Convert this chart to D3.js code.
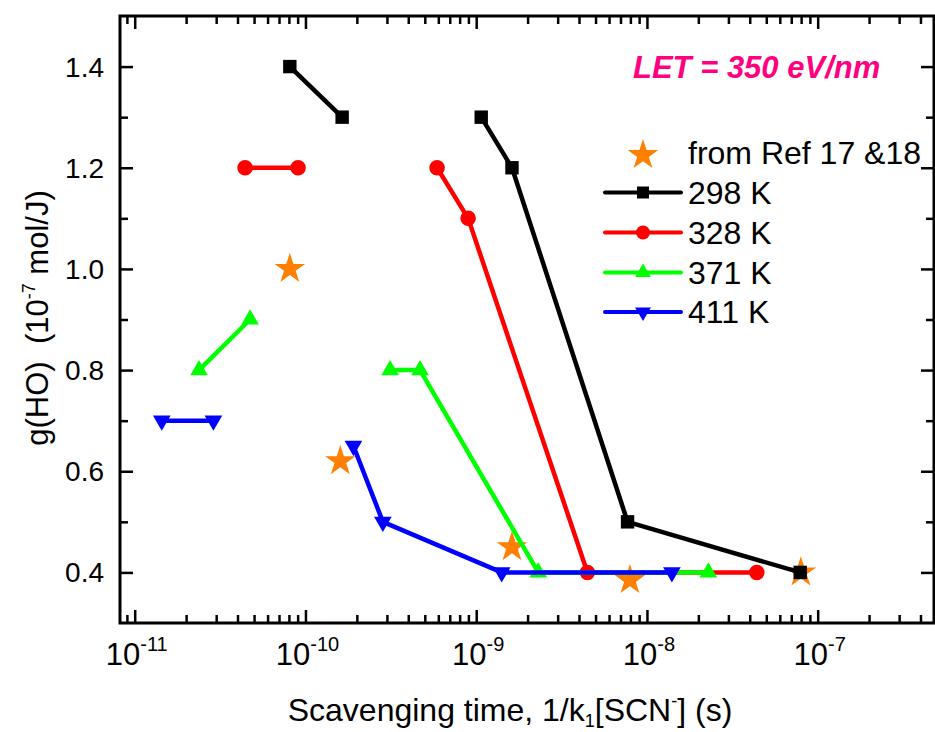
<!DOCTYPE html>
<html>
<head>
<meta charset="utf-8">
<script src="https://cdn.jsdelivr.net/npm/d3@7"></script>
<style>
  html, body { margin: 0; padding: 0; background: #fff; }
  svg { display: block; font-family: "Liberation Sans", Arial, sans-serif; }
</style>
</head>
<body>
<svg id="chart" width="935" height="732"></svg>
<script>
// ---------------- data ----------------
const seriesNames = ["298 K", "328 K", "371 K", "411 K"];
const seriesColors = ["#000000", "#ff0000", "#00ff00", "#0000ff"];
const seriesSymbols = ["square", "circle", "triangle", "triangleDown"];

// null marks a break in the line
const x298 = [8.1e-11, 1.64e-10, null, 1.07e-9, 1.62e-9, 7.7e-9, 7.9e-8];
const y298 = [1.4, 1.3, null, 1.3, 1.2, 0.5, 0.4];
const x328 = [4.43e-11, 9.05e-11, null, 5.9e-10, 8.97e-10, 4.48e-9, 4.4e-8];
const y328 = [1.2, 1.2, null, 1.2, 1.1, 0.4, 0.4];
const x371 = [2.38e-11, 4.74e-11, null, 3.13e-10, 4.69e-10, 2.31e-9, 2.29e-8];
const y371 = [0.8, 0.9, null, 0.8, 0.8, 0.4, 0.4];
const x411 = [1.44e-11, 2.89e-11, null, 1.91e-10, 2.84e-10, 1.41e-9, 1.4e-8];
const y411 = [0.7, 0.7, null, 0.65, 0.5, 0.4, 0.4];

const refName = "from Ref 17 &18";
const xRef = [8.1e-11, 1.6e-10, 1.62e-9, 7.95e-9, 7.97e-8];
const yRef = [1.0, 0.62, 0.45, 0.385, 0.4];

const xMajorTicks = [1e-11, 1e-10, 1e-9, 1e-8, 1e-7];
const xTickExponents = ["-11", "-10", "-9", "-8", "-7"];
const yMajorTicks = [0.4, 0.6, 0.8, 1.0, 1.2, 1.4];
const yMinorTicks = [0.5, 0.7, 0.9, 1.1, 1.3];
const xDomain = [8.2e-12, 4.8e-7];
const yDomain = [0.3, 1.5];
const annotation = "LET = 350 eV/nm";

// ---------------- layout ----------------
const svg = d3.select("#chart");
const M = {left: 120, top: 16, right: 934, bottom: 623};
const W = M.right - M.left, H = M.bottom - M.top;

const x = d3.scaleLog().domain(xDomain).range([M.left, M.right]);
const y = d3.scaleLinear().domain(yDomain).range([M.bottom, M.top]);

// minor x ticks
const xMinorTicks = [];
for (let e = -12; e <= -7; e++) {
  for (let k = 2; k <= 9; k++) {
    const v = k * Math.pow(10, e);
    if (v > xDomain[0] && v < xDomain[1]) xMinorTicks.push(v);
  }
}

const axisColor = "#000";
const g = svg.append("g");

function styleAxis(sel) {
  sel.select(".domain").remove();
  sel.selectAll("line").attr("stroke", axisColor).attr("stroke-width", 2.5);
  sel.selectAll("text").remove();
}
const majLen = 13, minLen = 8;
g.append("g").attr("transform", `translate(0,${M.bottom})`)
  .call(d3.axisBottom(x).tickValues(xMajorTicks).tickSize(-majLen)).call(styleAxis);
g.append("g").attr("transform", `translate(0,${M.bottom})`)
  .call(d3.axisBottom(x).tickValues(xMinorTicks).tickSize(-minLen)).call(styleAxis);
g.append("g").attr("transform", `translate(0,${M.top})`)
  .call(d3.axisTop(x).tickValues(xMajorTicks).tickSize(-majLen)).call(styleAxis);
g.append("g").attr("transform", `translate(0,${M.top})`)
  .call(d3.axisTop(x).tickValues(xMinorTicks).tickSize(-minLen)).call(styleAxis);
g.append("g").attr("transform", `translate(${M.left},0)`)
  .call(d3.axisLeft(y).tickValues(yMajorTicks).tickSize(-majLen)).call(styleAxis);
g.append("g").attr("transform", `translate(${M.left},0)`)
  .call(d3.axisLeft(y).tickValues(yMinorTicks).tickSize(-minLen)).call(styleAxis);
g.append("g").attr("transform", `translate(${M.right},0)`)
  .call(d3.axisRight(y).tickValues(yMajorTicks).tickSize(-majLen)).call(styleAxis);
g.append("g").attr("transform", `translate(${M.right},0)`)
  .call(d3.axisRight(y).tickValues(yMinorTicks).tickSize(-minLen)).call(styleAxis);

// frame
g.append("rect").attr("x", M.left).attr("y", M.top).attr("width", W).attr("height", H)
  .attr("fill", "none").attr("stroke", axisColor).attr("stroke-width", 3);

// y tick labels
g.selectAll(".ylab").data(yMajorTicks).enter().append("text")
  .attr("x", 104).attr("y", d => y(d) + 10)
  .attr("text-anchor", "end").attr("font-size", 28).attr("fill", "#000")
  .text(d => d.toFixed(1));

// x tick labels 10^n
xMajorTicks.forEach((v, i) => {
  const t = g.append("text").attr("x", x(v) + 2).attr("y", 665)
    .attr("text-anchor", "middle").attr("font-size", 31).attr("fill", "#000");
  t.append("tspan").text("10");
  t.append("tspan").attr("font-size", 20).attr("dy", -14).text(xTickExponents[i]);
});

// x axis title
const xt = g.append("text").attr("x", 510).attr("y", 721).attr("text-anchor", "middle")
  .attr("font-size", 32).attr("fill", "#000");
xt.append("tspan").text("Scavenging time, 1/k");
xt.append("tspan").attr("font-size", 18).attr("dy", 6).text("1");
xt.append("tspan").attr("dy", -6).text("[SCN");
xt.append("tspan").attr("font-size", 18).attr("dy", -14).text("-");
xt.append("tspan").attr("dy", 14).text("] (s)");

// y axis title
const yt = g.append("text").attr("transform", "translate(48,318) rotate(-90)")
  .attr("text-anchor", "middle").attr("font-size", 31).attr("fill", "#000")
  .attr("xml:space", "preserve");
yt.append("tspan").text("g(HO)  (10");
yt.append("tspan").attr("font-size", 18).attr("dy", -13).text("-7");
yt.append("tspan").attr("dy", 13).text(" mol/J)");

// annotation
g.append("text").attr("x", 633).attr("y", 78).attr("font-size", 31)
  .attr("font-weight", "bold").attr("font-style", "italic").attr("fill", "#ff0080")
  .text(annotation);

// ---- symbols ----
const symTypes = {
  square: {type: d3.symbolSquare, size: 180, rot: 0},
  circle: {type: d3.symbolCircle, size: 190, rot: 0},
  triangle: {type: d3.symbolTriangle, size: 135, rot: 0},
  triangleDown: {type: d3.symbolTriangle, size: 135, rot: 180},
};
const starSym = d3.symbol().type(d3.symbolStar).size(290);

// stars first (drawn beneath lines)
const refPts = xRef.map((v, i) => [v, yRef[i]]);
g.selectAll(".star").data(refPts).enter().append("path")
  .attr("d", starSym).attr("fill", "#ff7f00")
  .attr("transform", d => `translate(${x(d[0])},${y(d[1])})`);

const seriesX = [x298, x328, x371, x411];
const seriesY = [y298, y328, y371, y411];
const line = d3.line().defined(d => d[0] !== null && d[1] !== null)
  .x(d => x(d[0])).y(d => y(d[1]));

seriesNames.forEach((name, si) => {
  const pts = seriesX[si].map((v, i) => [v, seriesY[si][i]]);
  const col = seriesColors[si];
  const st = symTypes[seriesSymbols[si]];
  g.append("path").datum(pts).attr("d", line).attr("fill", "none")
    .attr("stroke", col).attr("stroke-width", 4.5).attr("stroke-linejoin", "round");
  g.selectAll(".m" + si).data(pts.filter(d => d[0] !== null)).enter().append("path")
    .attr("d", d3.symbol().type(st.type).size(st.size)).attr("fill", col)
    .attr("transform", d => `translate(${x(d[0])},${y(d[1])}) rotate(${st.rot})`);
});

// ---- legend ----
const lg = g.append("g");
const lgX1 = 605, lgX2 = 681, lgMid = 643, lgText = 688;
const lgRows = [153, 192.5, 232.5, 272.5, 312];
lg.append("path").attr("d", starSym).attr("fill", "#ff7f00")
  .attr("transform", `translate(${lgMid},${lgRows[0] + 2})`);
lg.append("text").attr("x", lgText).attr("y", lgRows[0] + 11).attr("font-size", 32)
  .attr("fill", "#000").text(refName);
seriesNames.forEach((name, si) => {
  const yy = lgRows[si + 1];
  const st = symTypes[seriesSymbols[si]];
  lg.append("line").attr("x1", lgX1).attr("x2", lgX2).attr("y1", yy).attr("y2", yy)
    .attr("stroke", seriesColors[si]).attr("stroke-width", 4).attr("stroke-linecap", "round");
  lg.append("path").attr("d", d3.symbol().type(st.type).size(st.size * 0.8))
    .attr("fill", seriesColors[si])
    .attr("transform", `translate(${lgMid},${yy}) rotate(${st.rot})`);
  lg.append("text").attr("x", lgText).attr("y", yy + 11).attr("font-size", 32)
    .attr("fill", "#000").text(name);
});
</script>
</body>
</html>
